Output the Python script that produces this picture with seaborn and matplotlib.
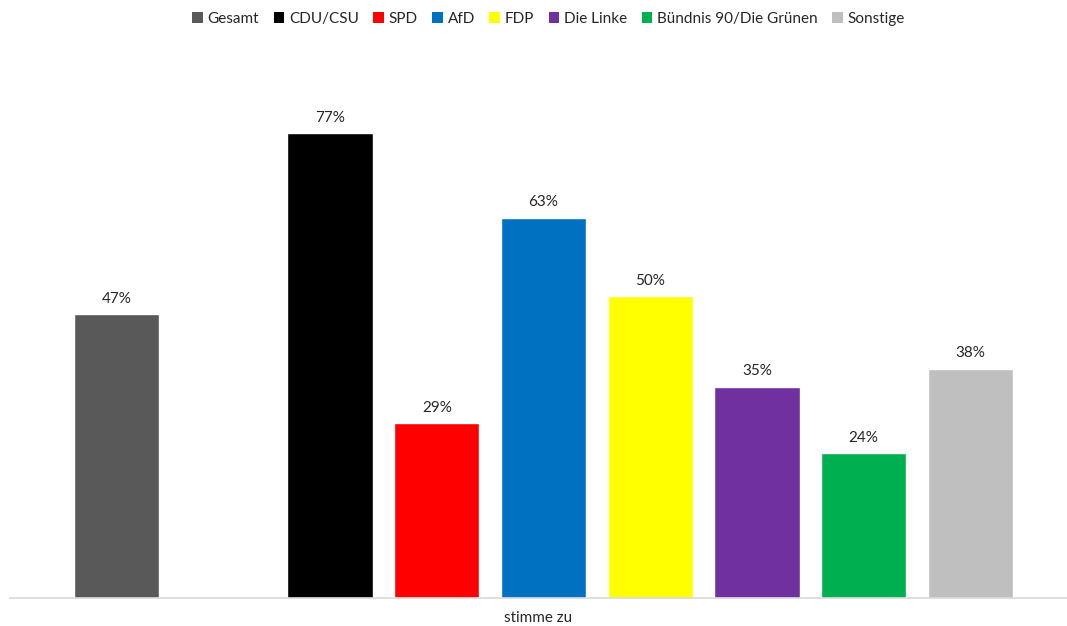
import pandas as pd
import seaborn as sns
import matplotlib.pyplot as plt
from matplotlib.patches import Patch

# data
parteien = ['Gesamt', 'CDU/CSU', 'SPD', 'AfD', 'FDP', 'Die Linke', 'Bündnis 90/Die Grünen', 'Sonstige']
werte = [47, 77, 29, 63, 50, 35, 24, 38]
farben = ['#595959', '#000000', '#FF0000', '#0070C0', '#FFFF00', '#7030A0', '#00B050', '#BFBFBF']
kategorie = 'stimme zu'

df = pd.DataFrame({'Partei': parteien, 'Wert': werte})

# empty slot between Gesamt and the parties
reihenfolge = ['Gesamt', ' '] + parteien[1:]
palette = dict(zip(parteien, farben))

sns.set_style('white')
plt.rcParams['font.family'] = ['Lato', 'DejaVu Sans']

fig = plt.figure(figsize=(10.67, 6.26), dpi=100)
ax = fig.add_axes([10 / 1067, 1 - 598 / 626, 1 - 10 / 1067, 483 / 626])

sns.barplot(data=df, x='Partei', y='Wert', hue='Partei', order=reihenfolge,
            palette=palette, width=0.8, legend=False, ax=ax, saturation=1)

for cont in ax.containers:
    ax.bar_label(cont, fmt='{:.0f}%', padding=6, fontsize=11, color='#262626')

ax.set_xlim(-1.0, 8.906)
ax.set_ylim(0, 80)
ax.set_xticks([])
ax.set_yticks([])
for s in ['top', 'right', 'left']:
    ax.spines[s].set_visible(False)
ax.spines['bottom'].set_color('#D9D9D9')
ax.spines['bottom'].set_linewidth(1.2)
ax.set_ylabel('')
ax.set_xlabel(kategorie, fontsize=11, color='#262626', labelpad=9)

# legend
handles = [Patch(facecolor=c, edgecolor='none', label=p) for p, c in zip(parteien, farben)]
fig.legend(handles=handles, loc='center', bbox_to_anchor=(0.514, 1 - 19 / 626), ncol=8,
           frameon=False, fontsize=11, handlelength=0.7, handleheight=0.7,
           handletextpad=0.3, columnspacing=0.95, labelcolor='#262626')

fig.savefig('out.png', dpi=100)
